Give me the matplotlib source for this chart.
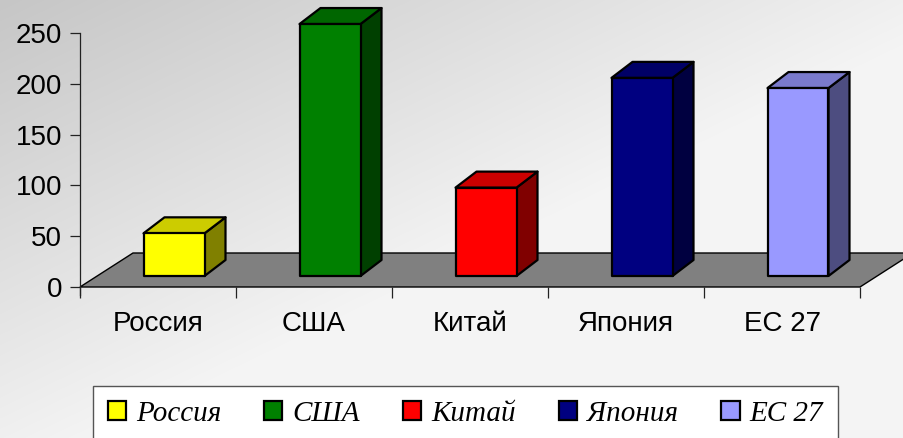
import numpy as np
import matplotlib
matplotlib.use("Agg")
import matplotlib.pyplot as plt
from matplotlib.patches import Polygon, Patch
from matplotlib.font_manager import FontProperties

# data
countries = ['Россия', 'США', 'Китай', 'Япония', 'ЕС 27']
values = [42, 248, 87, 195, 185]
front_colors = ['#FFFF00', '#008000', '#FF0000', '#000080', '#9999FF']
top_colors = ['#CCCC00', '#006600', '#CC0000', '#000066', '#7A7ACC']
side_colors = ['#808000', '#004000', '#800000', '#000040', '#4D4D80']
yticks = [0, 50, 100, 150, 200, 250]

W, H = 904, 438
fig = plt.figure(figsize=(W / 100, H / 100), dpi=100)

# background gradient
bg = fig.add_axes([0, 0, 1, 1], zorder=-10)
xx, yy = np.meshgrid(np.linspace(0, 1, W), np.linspace(0, 1, H))
s = np.clip((xx + yy) / 1.1, 0, 1)
grad = (198 + 46 * s) / 255.0
bg.imshow(np.dstack([grad, grad, grad]), aspect='auto', extent=[0, 1, 1, 0])
bg.set_xlim(0, 1); bg.set_ylim(1, 0)
bg.axis('off')

# main axes (front plane), pixel layout
ax_l, ax_r, ax_t, ax_b = 80, 860, 33, 287
ax = fig.add_axes([ax_l / W, 1 - ax_b / H, (ax_r - ax_l) / W, (ax_b - ax_t) / H])
ax.patch.set_visible(False)
n = len(countries)
ax.set_xlim(-0.5, n - 0.5)
ax.set_ylim(0, 250)
px_x = (ax_r - ax_l) / n
px_y = (ax_b - ax_t) / 250.0

def off(dx, dy):
    return dx / px_x, dy / px_y

# floor
fdx, fdy = off(53, 34)
floor = Polygon([(-0.5, 0), (n - 0.5, 0), (n - 0.5 + fdx, fdy), (-0.5 + fdx, fdy)],
                closed=True, facecolor='#808080', edgecolor='black', lw=1.0,
                clip_on=False, zorder=1)
ax.add_patch(floor)

# bars
ox, oy = off(16, 11)
bdx, bdy = off(21, 16)
bw = 61 / px_x
for i, v in enumerate(values):
    x0 = i - bw / 2 + ox
    x1 = i + bw / 2 + ox
    y0, y1 = oy, oy + v
    side = Polygon([(x1, y0), (x1, y1), (x1 + bdx, y1 + bdy), (x1 + bdx, y0 + bdy)],
                   facecolor=side_colors[i], edgecolor='black', lw=1.6,
                   joinstyle='round', clip_on=False, zorder=2)
    top = Polygon([(x0, y1), (x1, y1), (x1 + bdx, y1 + bdy), (x0 + bdx, y1 + bdy)],
                  facecolor=top_colors[i], edgecolor='black', lw=1.6,
                  joinstyle='round', clip_on=False, zorder=2)
    front = Polygon([(x0, y0), (x1, y0), (x1, y1), (x0, y1)],
                    facecolor=front_colors[i], edgecolor='black', lw=1.6,
                    joinstyle='round', clip_on=False, zorder=3)
    ax.add_patch(side); ax.add_patch(top); ax.add_patch(front)

# axes styling
for sp in ['top', 'right', 'bottom']:
    ax.spines[sp].set_visible(False)
ax.spines['left'].set_color('#222222')
ax.spines['left'].set_linewidth(0.9)
ax.spines['left'].set_bounds(-8 / px_y, 250)
ax.set_yticks(yticks)
ax.set_yticklabels([str(t) for t in yticks], family='Liberation Sans', fontsize=20)
ax.tick_params(axis='y', direction='out', length=7, width=0.9, pad=6, color='#222222')

ax.set_xticks(np.arange(-0.5, n, 1.0))
ax.set_xticklabels([''] * (n + 1))
ax.tick_params(axis='x', direction='out', length=8, width=0.9, color='#222222')
ax.set_xticks(np.arange(n), minor=True)
ax.set_xticklabels(countries, minor=True, family='Liberation Sans', fontsize=20)
ax.tick_params(axis='x', which='minor', length=0, pad=17)

# legend
handles = [Patch(facecolor=c, edgecolor='black', lw=1.6) for c in front_colors]
leg = fig.legend(handles, countries, loc='upper left',
                 bbox_to_anchor=(93 / W, 1 - 386 / H, 745 / W, 0), mode='expand',
                 ncol=n, prop=FontProperties(family='Liberation Serif', style='italic', size=21),
                 frameon=True, fancybox=False, edgecolor='#555555', facecolor='white',
                 framealpha=1, borderpad=0.5, borderaxespad=0, handlelength=0.62,
                 handleheight=0.62, handletextpad=0.35, columnspacing=0.8)
leg.get_frame().set_linewidth(1.0)

fig.savefig('out.png', dpi=100)
